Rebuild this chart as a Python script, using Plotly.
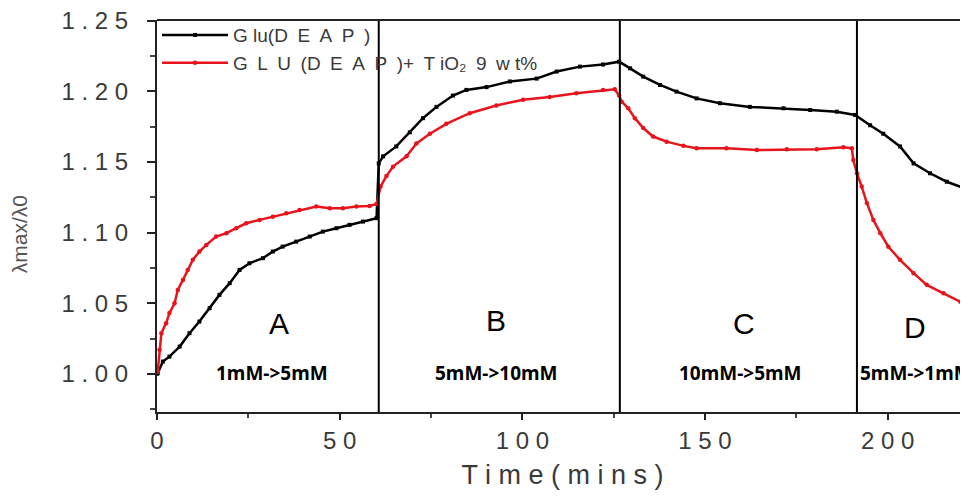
import plotly.graph_objects as go

# Glu(DEAP) series (time in mins, lambda_max/lambda_0)
black_x = [0.0, 0.2, 1.6, 3.4, 6.2, 8.9, 11.6, 14.4, 17.1, 19.9, 22.6, 25.3, 29.0, 31.7, 34.4, 38.1,
           41.8, 45.4, 49.1, 52.7, 56.4, 60.1, 60.7,
           61.9, 65.5, 69.2, 72.8, 76.5, 81.0, 84.7, 90.2, 96.6, 103.9, 109.4, 115.8, 122.1, 126.5,
           129.5, 133.1, 137.7, 142.2, 147.7, 154.1, 162.3, 171.5, 178.8, 186.1, 191.1,
           195.2, 198.8, 203.4, 207.1, 211.6, 216.2, 221.7]
black_y = [1.000, 1.0005, 1.0087, 1.0122, 1.0193, 1.0288, 1.037, 1.0465, 1.0559, 1.0642, 1.0736, 1.0783,
           1.0819, 1.0866, 1.0901, 1.0936, 1.0972, 1.1007, 1.1031, 1.1055, 1.1078, 1.1102, 1.149,
           1.154, 1.161, 1.171, 1.181, 1.189, 1.197, 1.201, 1.203, 1.207, 1.209, 1.214, 1.2175, 1.219, 1.221,
           1.2163, 1.2104, 1.2045, 1.1998, 1.195, 1.1916, 1.189, 1.188, 1.1868, 1.1856, 1.1833,
           1.176, 1.170, 1.161, 1.149, 1.142, 1.136, 1.1307]

# GLU(DEAP)+TiO2 9wt% series
red_x = [0.2, 0.7, 1.2, 2.5, 3.4, 4.8, 5.7, 7.1, 8.4, 9.8, 11.6, 13.5, 16.2, 19.0, 21.7, 24.4, 28.1,
         31.7, 35.4, 39.0, 43.6, 47.3, 50.9, 54.6, 58.2, 60.1,
         61.2, 62.8, 64.6, 68.3, 71.0, 74.7, 79.2, 85.6, 92.9, 100.2, 107.5, 114.8, 122.1, 125.3, 126.5,
         127.2, 129.0, 130.8, 133.1, 135.8, 139.5, 144.1, 147.7, 155.9, 164.2, 172.4, 180.6, 187.9, 190.2,
         190.6, 191.6, 192.9, 194.3, 196.1, 198.0, 200.2, 203.4, 207.1, 210.7, 215.3, 219.9, 222.0]
red_y = [1.0016, 1.017, 1.0288, 1.0359, 1.043, 1.050, 1.0594, 1.0665, 1.0736, 1.0807, 1.0866, 1.0913,
         1.0972, 1.0996, 1.1031, 1.1066, 1.109, 1.1113, 1.1137, 1.116, 1.1184, 1.1173, 1.1173, 1.1184,
         1.1189, 1.1203,
         1.1326, 1.140, 1.1467, 1.154, 1.163, 1.170, 1.177, 1.1845, 1.190, 1.194, 1.196, 1.1987,
         1.201, 1.2015, 1.197,
         1.1927, 1.188, 1.181, 1.174, 1.168, 1.1644, 1.1614, 1.1597, 1.1597, 1.1585, 1.159, 1.159, 1.1604,
         1.1597,
         1.1514, 1.142, 1.1326, 1.121, 1.109, 1.0996, 1.090, 1.0807, 1.0713, 1.063, 1.057, 1.051, 1.053]

# Stage boundaries and labels
boundaries = [60.7, 126.7, 191.6]
stage_letters = ["A", "B", "C", "D"]
stage_letter_x = [33.5, 92.9, 160.6, 207.4]
stage_letter_y = [1.036, 1.038, 1.036, 1.0325]
stage_texts = ["1mM->5mM", "5mM->10mM", "10mM->5mM", "5mM->1mM"]
stage_text_x = [31.6, 92.9, 159.7, 191.8]
stage_text_y = [1.0005, 1.0005, 1.0005, 1.0005]

y_tickvals = [1.00, 1.05, 1.10, 1.15, 1.20, 1.25]
y_ticktext = ["1 . 0 0", "1 . 0 5", "1 . 1 0", "1 . 1 5", "1 . 2 0", "1 . 2 5"]
x_tickvals = [0, 50, 100, 150, 200]
x_ticktext = ["0", "5 0", "1 0 0", "1 5 0", "2 0 0"]

SP = "\u2002"  # en space, mimics the wide letter spacing of the reference legend
name_black = SP.join(["G lu(D", "E", "A", "P", ")"])
name_red = SP.join(["G", "L", "U", "(D", "E", "A", "P", ")+", "T iO₂", "9", "w t%"])

fig = go.Figure()
fig.add_trace(go.Scatter(
    x=black_x, y=black_y, mode="lines+markers", name=name_black,
    line=dict(color="black", width=2.5),
    marker=dict(symbol="square", size=4, color="black"),
))
fig.add_trace(go.Scatter(
    x=red_x, y=red_y, mode="lines+markers", name=name_red,
    line=dict(color="#e8141b", width=2.5),
    marker=dict(symbol="circle", size=4.5, color="#e8141b"),
))

for b in boundaries:
    fig.add_shape(type="line", x0=b, x1=b, y0=0, y1=1, xref="x", yref="paper",
                  line=dict(color="black", width=2))
# top frame line
fig.add_shape(type="line", x0=0, x1=1, y0=1, y1=1, xref="paper", yref="paper",
              line=dict(color="#222", width=2))

for t, x, y in zip(stage_letters, stage_letter_x, stage_letter_y):
    fig.add_annotation(x=x, y=y, text=t, showarrow=False,
                       font=dict(family="Liberation Sans Narrow, Liberation Sans, Arial", size=30, color="black"))
for i, (t, x, y) in enumerate(zip(stage_texts, stage_text_x, stage_text_y)):
    fig.add_annotation(x=x, y=y, text="<b>" + t + "</b>", showarrow=False,
                       xanchor="left" if i == 3 else "center",
                       font=dict(family="Noto Sans, Liberation Sans", size=19, color="black"))

# y-axis title placed as an annotation (rotated) to match the reference position
fig.add_annotation(xref="paper", yref="paper", x=-0.170, y=0.454, text="λmax/λ0", textangle=-90,
                   xanchor="center", yanchor="middle",
                   showarrow=False, font=dict(family="Liberation Sans, Arial", size=21, color="#555"))

tick_font = dict(family="Liberation Sans, Arial", size=24, color="#3a3a3a")

fig.update_xaxes(
    range=[0, 222], tickvals=x_tickvals, ticktext=x_ticktext, tickfont=tick_font,
    showline=True, linecolor="#222", linewidth=2,
    ticks="outside", ticklen=6, tickwidth=2, tickcolor="#222",
    minor=dict(tickvals=[25, 75, 125, 175], ticks="outside", ticklen=4, tickwidth=2, tickcolor="#444"),
    showgrid=False, zeroline=False,
    title=dict(text="T i m e ( m i n s )", font=dict(family="Liberation Sans, Arial", size=27, color="#3a3a3a"),
               standoff=12),
)
fig.update_yaxes(
    range=[0.973, 1.2505], tickvals=y_tickvals, ticktext=y_ticktext, tickfont=tick_font,
    showline=True, linecolor="#222", linewidth=2,
    ticks="outside", ticklen=8, tickwidth=2, tickcolor="#222", ticklabelstandoff=14,
    ticklabeloverflow="allow",
    minor=dict(tickvals=[0.975, 1.025, 1.075, 1.125, 1.175, 1.225], ticks="outside", ticklen=5,
               tickwidth=2, tickcolor="#444"),
    showgrid=False, zeroline=False,
)

fig.update_layout(
    width=960, height=488,
    margin=dict(l=149, r=0, t=12, b=84),
    paper_bgcolor="white", plot_bgcolor="white",
    showlegend=True,
    legend=dict(x=0.0, y=1.01, xanchor="left", yanchor="top", bgcolor="rgba(0,0,0,0)",
                font=dict(family="Liberation Sans, Arial", size=19, color="#3a3a3a"),
                itemwidth=66, tracegroupgap=0),
)

fig.write_html("out.html")
